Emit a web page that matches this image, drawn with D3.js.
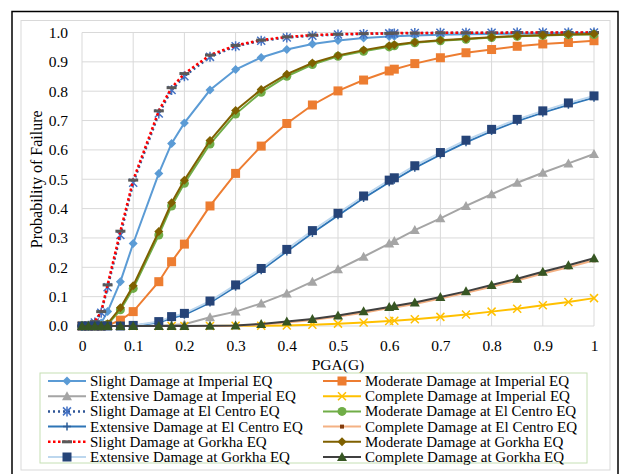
<!DOCTYPE html>
<html>
<head>
<meta charset="utf-8">
<script src="https://cdn.jsdelivr.net/npm/d3@7"></script>
<style>
  body { margin: 0; background: #ffffff; }
  svg text { font-family: "Liberation Serif", "Tinos", "DejaVu Serif", "Times New Roman", serif; fill: #000; }
</style>
</head>
<body>
<div id="chart"></div>
<script>
// PGA values (x axis)
const pga = [0, 0.0125, 0.025, 0.0375, 0.05, 0.075, 0.1, 0.15, 0.175, 0.2, 0.25, 0.3, 0.35, 0.4, 0.45,
             0.5, 0.55, 0.6, 0.61, 0.65, 0.7, 0.75, 0.8, 0.85, 0.9, 0.95, 1];

// Probability of failure
const slightImperial    = [0, 0, 0.001, 0.01, 0.049, 0.151, 0.281, 0.52, 0.622, 0.692, 0.804, 0.874, 0.915, 0.942, 0.961, 0.973, 0.981, 0.986, 0.987, 0.99, 0.992, 0.994, 0.995, 0.996, 0.997, 0.998, 0.998];
const moderateImperial  = [0, 0, 0, 0, 0.002, 0.02, 0.049, 0.151, 0.219, 0.279, 0.409, 0.52, 0.613, 0.69, 0.753, 0.801, 0.838, 0.869, 0.875, 0.894, 0.914, 0.931, 0.942, 0.953, 0.961, 0.966, 0.972];
const extensiveImperial = [0, 0, 0, 0, 0, 0, 0, 0.001, 0.003, 0.006, 0.03, 0.049, 0.077, 0.111, 0.151, 0.193, 0.236, 0.281, 0.29, 0.327, 0.367, 0.409, 0.449, 0.488, 0.522, 0.554, 0.586];
const completeImperial  = [0, 0, 0, 0, 0, 0, 0, 0, 0, 0, 0, 0.001, 0.001, 0.002, 0.004, 0.008, 0.012, 0.017, 0.018, 0.023, 0.031, 0.039, 0.049, 0.059, 0.071, 0.082, 0.095];
const slightElCentro    = [0, 0.001, 0.012, 0.045, 0.132, 0.31, 0.488, 0.724, 0.804, 0.851, 0.917, 0.953, 0.972, 0.983, 0.989, 0.993, 0.995, 0.997, 0.997, 0.998, 0.999, 0.999, 0.999, 1, 1, 1, 1];
const moderateElCentro  = [0, 0, 0, 0, 0.005, 0.055, 0.128, 0.31, 0.409, 0.486, 0.62, 0.722, 0.796, 0.851, 0.891, 0.919, 0.936, 0.951, 0.955, 0.965, 0.972, 0.977, 0.983, 0.987, 0.99, 0.992, 0.993];
const extensiveElCentro = [0, 0, 0, 0, 0, 0, 0.001, 0.012, 0.027, 0.038, 0.08, 0.134, 0.19, 0.254, 0.317, 0.377, 0.436, 0.49, 0.498, 0.539, 0.584, 0.626, 0.664, 0.698, 0.727, 0.754, 0.778];
const completeElCentro  = [0, 0, 0, 0, 0, 0, 0, 0, 0, 0, 0, 0.001, 0.005, 0.012, 0.02, 0.032, 0.045, 0.061, 0.063, 0.075, 0.094, 0.113, 0.134, 0.155, 0.179, 0.2, 0.224];
const slightGorkha      = [0, 0.002, 0.015, 0.049, 0.14, 0.323, 0.497, 0.733, 0.812, 0.86, 0.923, 0.956, 0.974, 0.985, 0.991, 0.994, 0.996, 0.997, 0.998, 0.998, 0.999, 0.999, 0.999, 1, 1, 1, 1];
const moderateGorkha    = [0, 0, 0, 0, 0.008, 0.062, 0.137, 0.322, 0.42, 0.497, 0.632, 0.734, 0.806, 0.858, 0.896, 0.922, 0.94, 0.955, 0.958, 0.967, 0.974, 0.979, 0.984, 0.988, 0.991, 0.993, 0.995];
const extensiveGorkha   = [0, 0, 0, 0, 0, 0, 0.002, 0.015, 0.032, 0.043, 0.085, 0.14, 0.196, 0.261, 0.325, 0.384, 0.443, 0.497, 0.505, 0.546, 0.591, 0.633, 0.67, 0.704, 0.733, 0.76, 0.784];
const completeGorkha    = [0, 0, 0, 0, 0, 0, 0, 0, 0, 0, 0.001, 0.002, 0.007, 0.015, 0.024, 0.036, 0.05, 0.065, 0.068, 0.08, 0.099, 0.118, 0.14, 0.161, 0.185, 0.207, 0.231];

// Tick labels
const xTicks = [0, 0.1, 0.2, 0.3, 0.4, 0.5, 0.6, 0.7, 0.8, 0.9, 1];
const yTicks = [0, 0.1, 0.2, 0.3, 0.4, 0.5, 0.6, 0.7, 0.8, 0.9, 1];
const xTitle = "PGA(G)";
const yTitle = "Probability of Failure";

// Series, in the workbook order (later ones are drawn on top)
const series = [
    { name: "Slight Damage at Imperial EQ",      values: slightImperial,    line: "#5b9bd5", dash: null,  marker: "diamond", fill: "#5b9bd5" },
    { name: "Moderate Damage at Imperial EQ",    values: moderateImperial,  line: "#ed7d31", dash: null,  marker: "square",  fill: "#ed7d31" },
    { name: "Extensive Damage at Imperial EQ",   values: extensiveImperial, line: "#a5a5a5", dash: null,  marker: "triangle", fill: "#a5a5a5" },
    { name: "Complete Damage at Imperial EQ",    values: completeImperial,  line: "#ffc000", dash: null,  marker: "x",       fill: "#ffc000" },
    { name: "Slight Damage at El Centro EQ",     values: slightElCentro,    line: "#2f5597", dash: "2,3", marker: "asterisk", fill: "#4472c4" },
    { name: "Moderate Damage at El Centro EQ",   values: moderateElCentro,  line: "#70ad47", dash: null,  marker: "circle",  fill: "#70ad47" },
    { name: "Extensive Damage at El Centro EQ",  values: extensiveElCentro, line: "#2e75b6", dash: null,  marker: "plus",    fill: "#2e5d96" },
    { name: "Complete Damage at El Centro EQ",   values: completeElCentro,  line: "#f4b183", dash: null,  marker: "small",   fill: "#843c0c" },
    { name: "Slight Damage at Gorkha EQ",        values: slightGorkha,      line: "#ff0000", dash: "2.5,2.5", marker: "dash", fill: "#595959" },
    { name: "Moderate Damage at Gorkha EQ",      values: moderateGorkha,    line: "#7f6000", dash: null,  marker: "diamond", fill: "#7f6000" },
    { name: "Extensive Damage at Gorkha EQ",     values: extensiveGorkha,   line: "#bdd7ee", dash: null,  marker: "square",  fill: "#264478" },
    { name: "Complete Damage at Gorkha EQ",      values: completeGorkha,    line: "#404040", dash: null,  marker: "triangle", fill: "#375623" }
];

const width = 619, height = 474;
const plot = { left: 82, right: 594, top: 32.5, bottom: 326 };
const serif = "'Liberation Serif', 'Tinos', 'DejaVu Serif', 'Times New Roman', serif";

const svg = d3.select("#chart").append("svg")
    .attr("width", width)
    .attr("height", height)
    .attr("font-family", serif);

// Frames
svg.append("rect").attr("width", width).attr("height", height).attr("fill", "#fff");
svg.append("rect")
    .attr("x", 12).attr("y", 11.5).attr("width", 606).attr("height", 480)
    .attr("fill", "none").attr("stroke", "#000").attr("stroke-width", 1.5);
svg.append("rect")
    .attr("x", 21).attr("y", 20.5).attr("width", 589).attr("height", 449.5)
    .attr("fill", "none").attr("stroke", "#d9d9d9").attr("stroke-width", 1);

const x = d3.scaleLinear().domain([0, 1]).range([plot.left, plot.right]);
const y = d3.scaleLinear().domain([0, 1]).range([plot.bottom, plot.top]);

// Grid
svg.append("g").selectAll("line")
    .data(xTicks).enter().append("line")
    .attr("x1", d => x(d)).attr("x2", d => x(d))
    .attr("y1", plot.top).attr("y2", plot.bottom)
    .attr("stroke", "#d9d9d9").attr("stroke-width", 1);
svg.append("g").selectAll("line")
    .data(yTicks).enter().append("line")
    .attr("x1", plot.left).attr("x2", plot.right)
    .attr("y1", d => y(d)).attr("y2", d => y(d))
    .attr("stroke", "#d9d9d9").attr("stroke-width", 1);

// Axes (labels only, Excel style)
const xAxis = svg.append("g")
    .attr("transform", `translate(0,${plot.bottom})`)
    .call(d3.axisBottom(x).tickValues(xTicks).tickSize(0).tickPadding(14).tickFormat(d => d === 0 || d === 1 ? String(d) : d3.format(".1f")(d)));
const yAxis = svg.append("g")
    .attr("transform", `translate(${plot.left},0)`)
    .call(d3.axisLeft(y).tickValues(yTicks).tickSize(0).tickPadding(14).tickFormat(d3.format(".1f")));
[xAxis, yAxis].forEach(a => {
    a.attr("font-family", serif).attr("font-size", 15.5);
    a.select(".domain").remove();
    a.selectAll("text").attr("fill", "#000");
});

svg.append("text")
    .attr("x", (plot.left + plot.right) / 2).attr("y", 370)
    .attr("text-anchor", "middle").attr("font-size", 15.5)
    .text(xTitle);
svg.append("text")
    .attr("transform", `translate(42,${(plot.top + plot.bottom) / 2}) rotate(-90)`)
    .attr("text-anchor", "middle").attr("font-size", 16)
    .text(yTitle);

// Marker drawing
function drawMarker(g, type, color, cx, cy) {
    if (type === "diamond") {
        g.append("path").attr("d", `M${cx},${cy - 4.5}L${cx + 4.5},${cy}L${cx},${cy + 4.5}L${cx - 4.5},${cy}Z`).attr("fill", color);
    } else if (type === "square") {
        g.append("rect").attr("x", cx - 4.5).attr("y", cy - 4.5).attr("width", 9).attr("height", 9).attr("fill", color);
    } else if (type === "triangle") {
        g.append("path").attr("d", `M${cx},${cy - 5}L${cx + 5},${cy + 4}L${cx - 5},${cy + 4}Z`).attr("fill", color);
    } else if (type === "circle") {
        g.append("circle").attr("cx", cx).attr("cy", cy).attr("r", 4.5).attr("fill", color);
    } else if (type === "small") {
        g.append("rect").attr("x", cx - 2).attr("y", cy - 2).attr("width", 4).attr("height", 4).attr("fill", color);
    } else if (type === "dash") {
        g.append("rect").attr("x", cx - 5).attr("y", cy - 1.5).attr("width", 10).attr("height", 3).attr("fill", color);
    } else {
        let d = "";
        if (type === "x" || type === "asterisk") d += `M${cx - 4},${cy - 4}L${cx + 4},${cy + 4}M${cx - 4},${cy + 4}L${cx + 4},${cy - 4}`;
        if (type === "asterisk") d += `M${cx},${cy - 5}L${cx},${cy + 5}`;
        if (type === "plus") d = `M${cx - 4},${cy}L${cx + 4},${cy}M${cx},${cy - 4}L${cx},${cy + 4}`;
        g.append("path").attr("d", d).attr("fill", "none").attr("stroke", color).attr("stroke-width", 1.5);
    }
}

const line = d3.line()
    .x((d, i) => x(pga[i]))
    .y(d => y(d));

// Series: line then markers
series.forEach(s => {
    const g = svg.append("g");
    g.append("path")
        .datum(s.values)
        .attr("d", line)
        .attr("fill", "none")
        .attr("stroke", s.line)
        .attr("stroke-width", s.dash ? 2.5 : 2)
        .attr("stroke-dasharray", s.dash);
    s.values.forEach((v, i) => drawMarker(g, s.marker, s.fill, x(pga[i]), y(v)));
});

// Legend
const legend = svg.append("g");
legend.append("rect")
    .attr("x", 40).attr("y", 373).attr("width", 547).attr("height", 90)
    .attr("fill", "#fff").attr("stroke", "#c5e0b4").attr("stroke-width", 1);

const colX = [48, 323];
series.forEach((s, i) => {
    const col = i % 2, row = Math.floor(i / 2);
    const lx = colX[col], ly = 381 + row * 15.2;
    const g = legend.append("g");
    g.append("line")
        .attr("x1", lx).attr("x2", lx + 38)
        .attr("y1", ly).attr("y2", ly)
        .attr("stroke", s.line).attr("stroke-width", s.dash ? 2.5 : 2)
        .attr("stroke-dasharray", s.dash);
    drawMarker(g, s.marker, s.fill, lx + 19, ly);
    g.append("text")
        .attr("x", lx + 42).attr("y", ly).attr("dy", "0.33em")
        .attr("font-size", 15)
        .text(s.name);
});
</script>
</body>
</html>
